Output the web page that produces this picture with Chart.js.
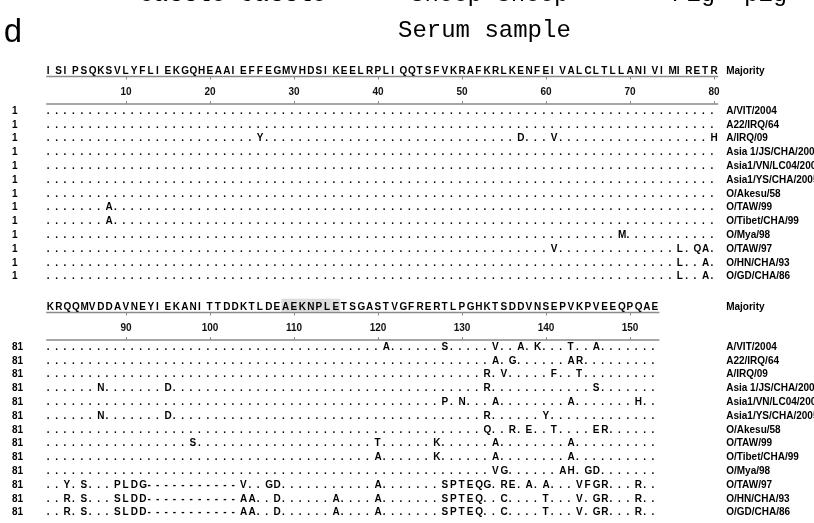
<!DOCTYPE html>
<html><head><meta charset="utf-8">
<script src="https://cdn.jsdelivr.net/npm/chart.js@4.4.1/dist/chart.umd.min.js"></script>
<style>html,body{margin:0;padding:0;background:#fff;overflow:hidden}#wrap{position:relative;width:814px;height:523px}</style>
</head><body><div id="wrap"><canvas id="c" width="814" height="523"></canvas></div>
<script>
// ---------------- data ----------------
const panelLetter = "d";
const panelTitle = "Serum sample";
const cutOffTitles = ["Cattle cattle", "Sheep sheep", "Pig  pig"];
const majorityLabel = "Majority";
const strainNames = ["A/VIT/2004","A22/IRQ/64","A/IRQ/09","Asia 1/JS/CHA/2005","Asia1/VN/LC04/2005","Asia1/YS/CHA/2005","O/Akesu/58","O/TAW/99","O/Tibet/CHA/99","O/Mya/98","O/TAW/97","O/HN/CHA/93","O/GD/CHA/86"];
const start1 = 1;
const start2 = 81;
const majority1 = "ISIPSQKSVLYFLIEKGQHEAAIEFFEGMVHDSIKEELRPLIQQTSFVKRAFKRLKENFEIVALCLTLLANIVIMIRETR";
const majority2 = "KRQQMVDDAVNEYIEKANITTDDKTLDEAEKNPLETSGASTVGFRERTLPGHKTSDDVNSEPVKPVEEQPQAE";
const ticks1 = [10,20,30,40,50,60,70,80];
const ticks2 = [90,100,110,120,130,140,150];
const highlight2 = [109,115];
// substitutions vs majority, "position+residue"
const mutations1 = [
  "", "", "26Y 57D 61V 80H", "", "", "", "",
  "8A", "8A", "69M", "61V 76L 78Q 79A", "76L 79A", "76L 79A"
];
const mutations2 = [
  "121A 128S 134V 137A 139K 143T 146A",
  "134A 136G 143A 144R",
  "133R 135V 141F 144T",
  "87N 95D 133R 146S",
  "128P 130N 134A 143A 151H",
  "87N 95D 133R 140Y",
  "133Q 136R 138E 141T 146E 147R",
  "98S 120T 127K 134A 143A",
  "120A 127K 134A 143A",
  "134V 135G 142A 143H 145G 146D",
  "83Y 85S 89P 90L 91D 92G 93- 94- 95- 96- 97- 98- 99- 100- 101- 102- 103- 104V 107G 108D 120A 128S 129P 130T 131E 132Q 133G 135R 136E 138A 140A 144V 145F 146G 147R 151R",
  "83R 85S 89S 90L 91D 92D 93- 94- 95- 96- 97- 98- 99- 100- 101- 102- 103- 104A 105A 108D 115A 120A 128S 129P 130T 131E 132Q 135C 140T 144V 146G 147R 151R",
  "83R 85S 89S 90L 91D 92D 93- 94- 95- 96- 97- 98- 99- 100- 101- 102- 103- 104A 105A 108D 115A 120A 128S 129P 130T 131E 132Q 135C 140T 144V 146G 147R 151R"
];

// ---------------- layout (row units) ----------------
const BASE1 = 0, BASE2 = 17.1;
const MAJ_OFF = -2.9, UL_OFF = -2.5, NUM_OFF = -1.35, LL_OFF = -0.5;
const HL_TOP = -3.5, HL_BOT = -2.56;

function parseMut(s){
  const o = {};
  s.split(/\s+/).filter(Boolean).forEach(t => { const m = t.match(/^(\d+)(.)$/); if (m) o[+m[1]] = m[2]; });
  return o;
}
const blocks = [
  {maj: majority1, start: start1, muts: mutations1, base: BASE1, axis: 'x', ticks: ticks1, hl: null},
  {maj: majority2, start: start2, muts: mutations2, base: BASE2, axis: 'x2', ticks: ticks2, hl: highlight2}
];
const datasets = [];
blocks.forEach((b, bi) => {
  datasets.push({label: majorityLabel, kind: 'maj', block: bi, xAxisID: b.axis, yAxisID: 'y',
    data: [...b.maj].map((c, i) => ({x: b.start + i, y: b.base + MAJ_OFF, c}))});
  b.muts.forEach((m, r) => {
    const d = parseMut(m);
    datasets.push({label: strainNames[r], kind: 'row', block: bi, rowNum: String(b.start), xAxisID: b.axis, yAxisID: 'y',
      data: [...b.maj].map((c, i) => ({x: b.start + i, y: b.base + r, c: d[b.start + i] || '.'}))});
  });
});

const FONT = '"Liberation Sans", Arial, sans-serif';
const seqPlugin = {
  id: 'seq',
  beforeDatasetsDraw(chart){
    const ctx = chart.ctx, ys = chart.scales.y;
    ctx.save();
    blocks.forEach(b => {
      if (!b.hl) return;
      const xs = chart.scales[b.axis];
      const x0 = xs.getPixelForValue(b.hl[0] - 0.5), x1 = xs.getPixelForValue(b.hl[1] + 0.5);
      const y0 = ys.getPixelForValue(b.base + HL_TOP), y1 = ys.getPixelForValue(b.base + HL_BOT);
      ctx.fillStyle = '#dcdcdc';
      ctx.fillRect(x0, y0, x1 - x0, y1 - y0);
    });
    ctx.restore();
  },
  afterDatasetsDraw(chart){
    const ctx = chart.ctx, ys = chart.scales.y, ca = chart.chartArea;
    ctx.save();
    // rulers
    blocks.forEach(b => {
      const xs = chart.scales[b.axis];
      const x0 = xs.getPixelForValue(b.start - 0.5), x1 = xs.getPixelForValue(b.start + b.maj.length - 0.5);
      const yU = ys.getPixelForValue(b.base + UL_OFF), yL = ys.getPixelForValue(b.base + LL_OFF);
      const yN = ys.getPixelForValue(b.base + NUM_OFF);
      ctx.strokeStyle = '#8a8a8a'; ctx.lineWidth = 1.5;
      ctx.beginPath(); ctx.moveTo(x0, yU); ctx.lineTo(x1, yU); ctx.moveTo(x0, yL); ctx.lineTo(x1, yL); ctx.stroke();
      ctx.lineWidth = 1;
      ctx.font = 'bold 10px ' + FONT; ctx.fillStyle = '#111'; ctx.textAlign = 'center'; ctx.textBaseline = 'middle';
      b.ticks.forEach(t => {
        const x = Math.round(xs.getPixelForValue(t)) + 0.5;
        ctx.beginPath(); ctx.moveTo(x, yU); ctx.lineTo(x, yU + 3); ctx.moveTo(x, yL); ctx.lineTo(x, yL - 3); ctx.stroke();
        ctx.fillText(String(t), xs.getPixelForValue(t), yN);
      });
    });
    // characters
    chart.data.datasets.forEach((ds, di) => {
      const meta = chart.getDatasetMeta(di);
      const xs = chart.scales[ds.xAxisID];
      const half = (xs.getPixelForValue(2) - xs.getPixelForValue(1)) / 2;
      ctx.fillStyle = '#000'; ctx.textAlign = 'left'; ctx.textBaseline = 'middle';
      ctx.font = 'bold 10px ' + FONT;
      meta.data.forEach((el, i) => { ctx.fillText(ds.data[i].c, el.x - half + 0.6, el.y); });
      const y = meta.data[0].y;
      ctx.font = 'bold 10px ' + FONT;
      ctx.fillText(ds.label, ca.right + 8, y);
      if (ds.kind === 'row') ctx.fillText(ds.rowNum, 12, y);
    });
    ctx.restore();
  },
  afterDraw(chart){
    const ctx = chart.ctx;
    ctx.save();
    ctx.fillStyle = '#000'; ctx.textBaseline = 'alphabetic'; ctx.textAlign = 'left';
    ctx.font = '24px "Liberation Mono", "DejaVu Sans Mono", monospace';
    ctx.fillText(cutOffTitles[0], 139, 1);
    ctx.fillText(cutOffTitles[1], 410, 1);
    ctx.fillText(cutOffTitles[2], 672, 1);
    ctx.fillText(panelTitle, 398, 37);
    ctx.font = '33px "Liberation Mono", "DejaVu Sans Mono", monospace';
    ctx.fillText(panelLetter, 3, 42);
    ctx.restore();
  }
};

const ROW_PX = 13.8, ROW0_PX = 111, H = 523;
const yMin = -ROW0_PX / ROW_PX, yMax = yMin + H / ROW_PX;

new Chart(document.getElementById('c'), {
  type: 'scatter',
  data: {datasets},
  options: {
    responsive: false, animation: false, events: [],
    layout: {padding: {left: 46.2, right: 95.8, top: 0, bottom: 0}},
    elements: {point: {radius: 0, hoverRadius: 0}},
    plugins: {legend: {display: false}, tooltip: {enabled: false}},
    scales: {
      x: {type: 'linear', min: 0.5, max: 80.5, display: false},
      x2: {type: 'linear', min: 80.5, max: 160.5, display: false},
      y: {type: 'linear', min: yMin, max: yMax, reverse: true, display: false}
    }
  },
  plugins: [seqPlugin]
});
</script></body></html>
